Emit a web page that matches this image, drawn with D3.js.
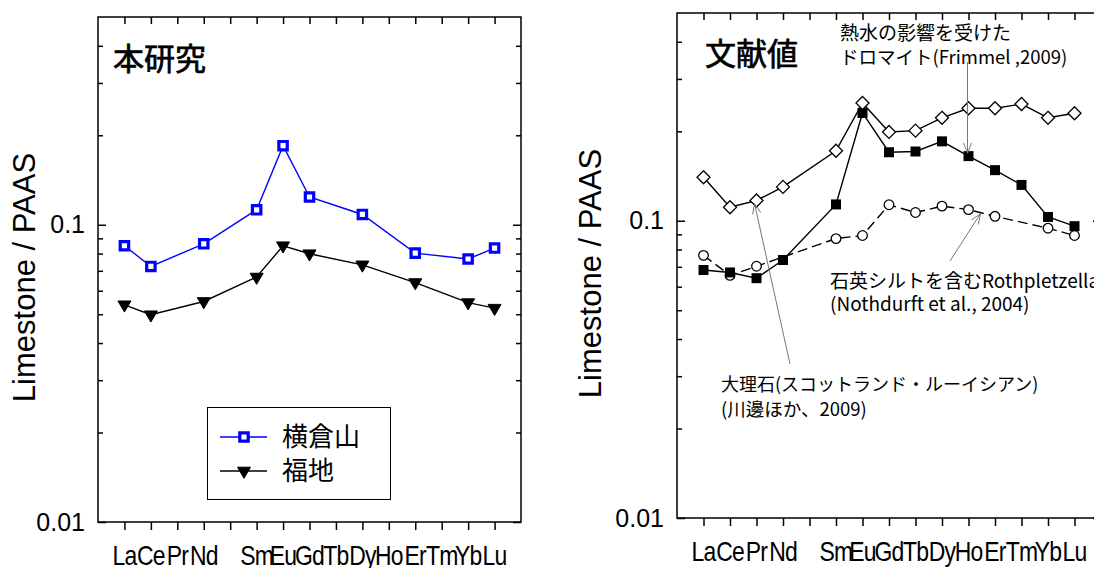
<!DOCTYPE html>
<html lang="ja">
<head>
<meta charset="UTF-8">
<title>REE pattern</title>
<script src="https://cdn.jsdelivr.net/npm/d3@7"></script>
<style>
  * { margin: 0; padding: 0; }
  body { background: #fff; }
  svg { display: block; font-family: "Liberation Sans", Arial, sans-serif; }
  .jp { font-family: "Noto Sans CJK JP", sans-serif; }
</style>
</head>
<body>
<div id="chart"></div>
<script>
// 元素 (Pm はラベルなし)
const elements = ["La", "Ce", "Pr", "Nd", "Pm", "Sm", "Eu", "Gd", "Tb", "Dy", "Ho", "Er", "Tm", "Yb", "Lu"];
const tickLabels = ["La", "Ce", "Pr", "Nd", "", "Sm", "Eu", "Gd", "Tb", "Dy", "Ho", "Er", "Tm", "Yb", "Lu"];
const yMajor = [0.01, 0.1];
const yMinor = [0.02, 0.03, 0.04, 0.05, 0.06, 0.07, 0.08, 0.09, 0.2, 0.3, 0.4];

// 本研究
const yokokurayama = [0.085, 0.0724, null, 0.0863, null, 0.1123, 0.1845, 0.124, null, 0.1083, null, 0.0803, null, 0.0767, 0.0835];
const fukuchi = [0.0538, 0.0498, null, 0.0552, null, 0.0667, 0.085, 0.0799, null, 0.0733, null, 0.0639, null, 0.0547, 0.0524];

// 文献値
const marble = [0.140, 0.111, 0.117, 0.130, null, 0.172, 0.249, 0.199, 0.201, 0.222, 0.239, 0.239, 0.247, 0.222, 0.230];
const dolomite = [0.0683, 0.0670, 0.0641, 0.0738, null, 0.1135, 0.2305, 0.170, 0.171, 0.185, 0.165, 0.148, 0.132, 0.103, 0.0959];
const rothpletzella = [0.0765, 0.0655, 0.0703, null, null, 0.0871, 0.0892, 0.1132, 0.1066, 0.112, 0.109, 0.1035, null, 0.0944, 0.0892];

const W = 1094, H = 568;
const svg = d3.select('#chart').append('svg')
  .attr('width', W).attr('height', H);

// パネル作成
function makePanel(box, title, titlePos) {
  const x = d3.scaleLinear().domain([0, 16]).range([box.x0, box.x1]);
  const y = d3.scaleLog().domain([0.01, 0.5]).range([box.y1, box.y0]);
  const g = svg.append('g');

  // 枠
  g.append('rect')
    .attr('x', box.x0).attr('y', box.y0)
    .attr('width', box.x1 - box.x0).attr('height', box.y1 - box.y0)
    .attr('fill', 'none').attr('stroke', '#000').attr('stroke-width', 1.5);

  const idx = d3.range(1, 16);

  // x軸 下 (外向き)
  const xb = g.append('g').attr('transform', `translate(0,${box.y1})`)
    .call(d3.axisBottom(x).tickValues(idx).tickSize(8).tickFormat(''));
  // x軸 上 (内向き)
  const xt = g.append('g').attr('transform', `translate(0,${box.y0})`)
    .call(d3.axisTop(x).tickValues(idx).tickSize(-7).tickFormat(''));

  // y軸 左
  const yl = g.append('g').attr('transform', `translate(${box.x0},0)`)
    .call(d3.axisLeft(y).tickValues(yMajor).tickSize(-8).tickPadding(13)
      .tickFormat(d => d === 0.01 ? '0.01' : '0.1'));
  const ylm = g.append('g').attr('transform', `translate(${box.x0},0)`)
    .call(d3.axisLeft(y).tickValues(yMinor).tickSize(-5).tickFormat(''));
  // y軸 右
  const yr = g.append('g').attr('transform', `translate(${box.x1},0)`)
    .call(d3.axisRight(y).tickValues(yMajor).tickSize(-8).tickFormat(''));
  const yrm = g.append('g').attr('transform', `translate(${box.x1},0)`)
    .call(d3.axisRight(y).tickValues(yMinor).tickSize(-5).tickFormat(''));

  [xb, xt, yl, ylm, yr, yrm].forEach(a => {
    a.select('.domain').remove();
    a.selectAll('line').attr('stroke', '#000').attr('stroke-width', 1.5);
  });

  yl.selectAll('text')
    .attr('font-size', '25px')
    .attr('font-family', '"Liberation Sans", Arial, sans-serif')
    .attr('fill', '#000');

  // 元素ラベル (横に詰まった表示)
  g.selectAll('.xlab').data(tickLabels)
    .enter().append('text')
    .attr('class', 'xlab')
    .attr('transform', (d, i) => `translate(${x(i + 1)},${box.y1 + 43}) scale(0.82,1)`)
    .attr('text-anchor', 'middle')
    .attr('font-size', '28px')
    .attr('letter-spacing', '-1px')
    .text(d => d);

  // y軸タイトル
  g.append('text')
    .attr('transform', `translate(${box.labelX},${(box.y0 + box.y1) / 2 + 8}) rotate(-90)`)
    .attr('text-anchor', 'middle')
    .attr('font-size', '31px')
    .text('Limestone / PAAS');

  g.append('text')
    .attr('class', 'jp')
    .attr('x', titlePos[0]).attr('y', titlePos[1])
    .attr('font-size', '31px')
    .attr('stroke', '#000').attr('stroke-width', 0.7)
    .text(title);

  return { g, x, y };
}

function drawSeries(p, values, opt) {
  const pts = values.map((v, i) => ({ i: i + 1, v })).filter(d => d.v != null);
  const line = d3.line().x(d => p.x(d.i)).y(d => p.y(d.v));
  p.g.append('path')
    .datum(pts)
    .attr('d', line)
    .attr('fill', 'none')
    .attr('stroke', opt.color)
    .attr('stroke-width', 1.4)
    .attr('stroke-dasharray', opt.dash || null);
  p.g.selectAll(null).data(pts).enter().append('path')
    .attr('transform', d => `translate(${p.x(d.i)},${p.y(d.v)})`)
    .attr('d', opt.shape)
    .attr('fill', opt.fill)
    .attr('stroke', opt.color)
    .attr('stroke-width', opt.sw);
}

const sq = 'M-4.2,-4.2H4.2V4.2H-4.2Z';
const sqFill = 'M-5,-5H5V5H-5Z';
const triDown = 'M-6.5,-3.8L6.5,-3.8L0,7.3Z';
const diamond = 'M0,-6.5L6.5,0L0,6.5L-6.5,0Z';
const circle = d3.symbol().type(d3.symbolCircle).size(Math.PI * 4.8 * 4.8)();

// 左パネル
const left = makePanel({ x0: 98, x1: 521, y0: 17, y1: 522, labelX: 35 }, '本研究', [113, 70]);
drawSeries(left, fukuchi, { color: '#000', shape: triDown, fill: '#000', sw: 1 });
drawSeries(left, yokokurayama, { color: '#0000ff', shape: sq, fill: '#fff', sw: 3.2 });

// 凡例
const lg = left.g.append('g');
lg.append('rect').attr('x', 207.5).attr('y', 407.5).attr('width', 183).attr('height', 92)
  .attr('fill', '#fff').attr('stroke', '#000').attr('stroke-width', 1);
const legendItems = [
  { name: '横倉山', color: '#0000ff', shape: sq, fill: '#fff', sw: 3.2, y: 437 },
  { name: '福地', color: '#000', shape: triDown, fill: '#000', sw: 1, y: 471 }
];
legendItems.forEach(d => {
  lg.append('line').attr('x1', 220).attr('x2', 267).attr('y1', d.y).attr('y2', d.y)
    .attr('stroke', d.color).attr('stroke-width', 1.4);
  lg.append('path').attr('transform', `translate(244,${d.y})`).attr('d', d.shape)
    .attr('fill', d.fill).attr('stroke', d.color).attr('stroke-width', d.sw);
  lg.append('text').attr('class', 'jp').attr('x', 282).attr('y', d.y + 9)
    .attr('font-size', '26px').text(d.name);
});

// 右パネル
const right = makePanel({ x0: 677, x1: 1101, y0: 13, y1: 518, labelX: 601 }, '文献値', [705, 65]);
drawSeries(right, rothpletzella, { color: '#000', shape: circle, fill: '#fff', sw: 1.3, dash: '10,5' });
drawSeries(right, dolomite, { color: '#000', shape: sqFill, fill: '#000', sw: 0 });
drawSeries(right, marble, { color: '#000', shape: diamond, fill: '#fff', sw: 1.3 });

// 注記の矢印
function arrow(x1, y1, x2, y2) {
  const a = Math.atan2(y2 - y1, x2 - x1);
  const L = 11, s = 0.38;
  right.g.append('line').attr('x1', x1).attr('y1', y1).attr('x2', x2).attr('y2', y2)
    .attr('stroke', '#777').attr('stroke-width', 1);
  right.g.append('path')
    .attr('d', `M${x2 - L * Math.cos(a - s)},${y2 - L * Math.sin(a - s)}L${x2},${y2}L${x2 - L * Math.cos(a + s)},${y2 - L * Math.sin(a + s)}`)
    .attr('fill', 'none').attr('stroke', '#777').attr('stroke-width', 1);
}
const rx = right.x, ry = right.y;
arrow(rx(11) - 1, 62, rx(11) - 1, ry(dolomite[10]) - 3);
arrow(950, 261, rx(11) + 12, ry(rothpletzella[10]) + 4);
arrow(790, 364, rx(3) - 2, ry(marble[2]) + 3);

const notes = [
  { t: '熱水の影響を受けた', x: 840, y: 40, s: 19 },
  { t: 'ドロマイト(Frimmel ,2009)', x: 840, y: 64, s: 18.5 },
  { t: '石英シルトを含むRothpletzella', x: 830, y: 288, s: 19 },
  { t: '(Nothdurft et al., 2004)', x: 830, y: 311, s: 19 },
  { t: '大理石(スコットランド・ルーイシアン)', x: 721, y: 391, s: 18 },
  { t: '(川邊ほか、2009)', x: 721, y: 416, s: 18.5 }
];
right.g.selectAll('.note').data(notes).enter().append('text')
  .attr('class', 'jp')
  .attr('x', d => d.x).attr('y', d => d.y)
  .attr('font-size', d => d.s + 'px')
  .text(d => d.t);
</script>
</body>
</html>
